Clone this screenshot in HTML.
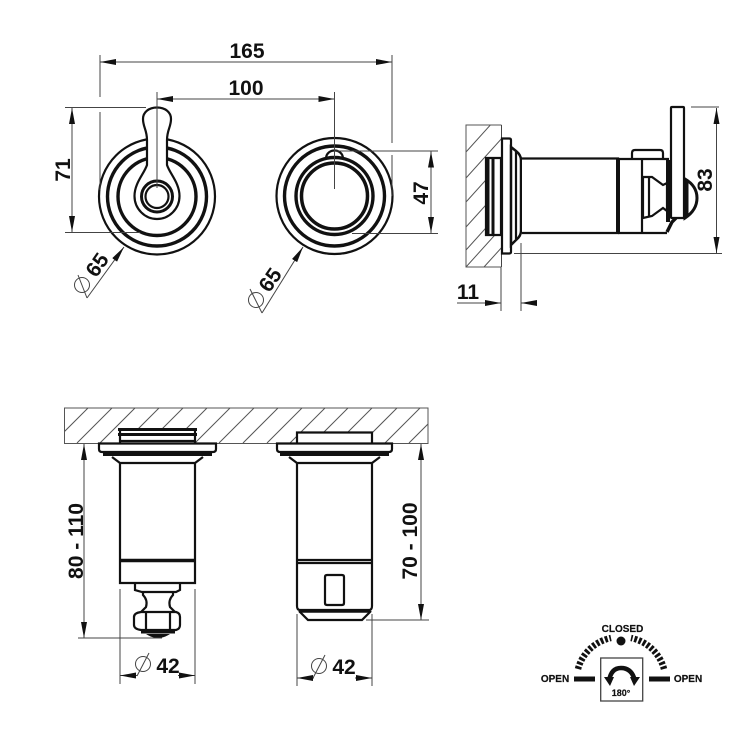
<!DOCTYPE html>
<html><head><meta charset="utf-8"><style>
html,body{margin:0;padding:0;background:#fff}
svg{display:block}
text{font-family:"Liberation Sans",sans-serif;fill:#111}
.t{font-size:21px;text-anchor:middle;font-weight:bold}
.s{font-size:10px;text-anchor:middle;font-weight:bold;stroke:#111;stroke-width:.2}
.d{stroke:#444;stroke-width:1;fill:none}
.h{stroke:#555;stroke-width:1;fill:none}
.o{stroke:#111;stroke-width:2.200;fill:none}
.b{stroke:#111;stroke-width:3.400;fill:none}
.w{stroke:#111;stroke-width:2.200;fill:#fff}
</style></head><body>
<svg width="750" height="750" viewBox="0 0 750 750" xmlns="http://www.w3.org/2000/svg">
<defs>
<marker id="a" viewBox="0 0 16 6" refX="16" refY="3" markerWidth="16" markerHeight="6" markerUnits="userSpaceOnUse" orient="auto-start-reverse"><path d="M0 0L16 3L0 6Z" fill="#111"/></marker>
<clipPath id="c1"><rect x="466" y="125" width="36" height="142"/></clipPath>
<clipPath id="c2"><rect x="64.500" y="408" width="363.500" height="35.500"/></clipPath>
</defs>

<!-- Left front view -->
<circle cx="157" cy="196.500" r="58" class="o"/>
<circle cx="157" cy="196.500" r="49.500" class="b"/>
<circle cx="157" cy="196.500" r="39" class="b"/>
<path d="M157 107.500C165 107.500 171 112 171 119C171 127 167 130 167 140L167 165C170 174 179.500 183 179.500 196C179.500 209 169 219 157 219C145 219 134.500 209 134.500 196C134.500 183 144 174 147 165L147 140C147 130 143 127 143 119C143 112 149 107.500 157 107.500Z" class="w"/>
<circle cx="157" cy="196.500" r="15.500" fill="#fff" stroke="#111" stroke-width="3"/>
<circle cx="157" cy="196.500" r="11.500" fill="#fff" stroke="#111" stroke-width="2.200"/>

<!-- Right front view -->
<circle cx="334.500" cy="196" r="58" class="o"/>
<circle cx="334.500" cy="196" r="50" class="b"/>
<circle cx="334.500" cy="196" r="38.500" class="b"/>
<circle cx="334.500" cy="196" r="33" fill="#fff" stroke="#111" stroke-width="3.500"/>
<path d="M326 158C327 148 342 148 343 158" class="o" fill="#fff"/>

<!-- Top dims -->
<path d="M100 62H392" class="d" marker-start="url(#a)" marker-end="url(#a)"/>
<path d="M100 55V97M100 112V190M392 55V143M392 155V196" class="d"/>
<path d="M157 99H334.500" class="d" marker-start="url(#a)" marker-end="url(#a)"/>
<path d="M157 92V188M334.500 92V189" class="d"/>
<path d="M72 108V232" class="d" marker-start="url(#a)" marker-end="url(#a)"/>
<path d="M65 107.500H146M65 232.500H140" class="d"/>
<path d="M431 151.500V233" class="d" marker-start="url(#a)" marker-end="url(#a)"/>
<path d="M335 151H438M352 233.500H438" class="d"/>
<path d="M87 298L124 247" class="d" marker-end="url(#a)"/>
<path d="M262 313L303 247" class="d" marker-end="url(#a)"/>
<text class="t" x="247" y="58">165</text>
<text class="t" x="246" y="95">100</text>
<text class="t" transform="translate(70 170) rotate(-90)">71</text>
<text class="t" transform="translate(428 193) rotate(-90)">47</text>
<text class="t" transform="translate(103 269) rotate(-55)">65</text>
<text class="t" transform="translate(276 284) rotate(-55)">65</text>
<g class="d"><circle cx="82" cy="285" r="7.500"/><path d="M78 275L87 298"/><circle cx="256" cy="300" r="7.500"/><path d="M250 289L262 313"/></g>

<!-- Side view -->
<path d="M501.500 125H466V267H501.500" class="h"/>
<g clip-path="url(#c1)" class="h"><path d="M466 152L503 111M466 178L503 137M466 202L503 161M466 227L503 186M466 250L503 209M466 267L503 226M484 267L503 246"/></g>
<path d="M501.500 125V267" class="d"/>
<path d="M486 158H501V235H486Z" fill="#fff" stroke="#111" stroke-width="2.200"/>
<path d="M488 157V236M493 157V236" stroke="#111" stroke-width="3" fill="none"/>
<path d="M502 138.500H509Q511 138.500 511 140V252Q511 253.500 509 253.500H502Z" class="w"/>
<path d="M511 147L516 151Q521 155 521 160V231Q521 236 516 240L511 245Z" fill="#fff" stroke="#111" stroke-width="2.500"/>
<path d="M516 152V239" class="o"/>
<path d="M522 158.500H618V233H522" class="w"/>
<path d="M618 158V234" stroke="#111" stroke-width="4"/>
<path d="M618 159H669M618 233H667" class="o"/>
<path d="M632 158V153Q632 150 635 150H660Q663 150 663 153V158" class="o" fill="#fff"/>
<path d="M642 159V233" class="o"/>
<path d="M643 177H652L663 185L667 183V211L663 208L652 216L643 218Z" class="o" fill="#fff"/>
<path d="M649 177V217" class="o"/>
<path d="M668 160V222" stroke="#111" stroke-width="4"/>
<path d="M667 232L672 222L676 218" class="b"/>
<path d="M685 179Q697 186 697 198Q697 210 685 218Z" fill="#fff" stroke="#111" stroke-width="3"/>
<path d="M687 180V217" stroke="#111" stroke-width="3"/>
<path d="M672 107H683Q684 107 684 108V217Q684 218 683 218H672Q671 218 671 217V108Q671 107 672 107Z" class="w"/>
<path d="M691 107H719" class="d"/>
<path d="M716.500 108V253" class="d" marker-start="url(#a)" marker-end="url(#a)"/>
<path d="M514 253.500H722" class="d"/>
<text class="t" transform="translate(712 180) rotate(-90)">83</text>
<path d="M501 267V311M521 243V311" class="d"/>
<path d="M457 303H501" class="d" marker-end="url(#a)"/>
<path d="M537 303H521" class="d" marker-end="url(#a)"/>
<text class="t" x="468" y="299">11</text>

<!-- Bottom wall -->
<path d="M64.500 408H428V443.500H64.500Z" class="h"/>
<g clip-path="url(#c2)" class="h"><path d="M88 408L53 443M112 408L77 443M135 408L100 443M159 408L124 443M183 408L148 443M207 408L172 443M230 408L195 443M254 408L219 443M278 408L243 443M302 408L267 443M325 408L290 443M348 408L313 443M372 408L337 443M397 408L362 443M420 408L385 443M444 408L409 443"/></g>

<!-- Bottom left -->
<path d="M120 429V443H195V429Z" fill="#fff" stroke="none"/>
<path d="M118 429.500H197" stroke="#111" stroke-width="3" fill="none"/>
<path d="M118 434.500H197" stroke="#111" stroke-width="3" fill="none"/>
<path d="M120 430V443M195 430V443M120 441H195" class="o"/>
<path d="M99 443.500H216V449Q216 452 213 452H102Q99 452 99 449Z" class="w"/>
<path d="M103 454H212" stroke="#111" stroke-width="4" fill="none"/>
<path d="M112 457L120 463H195L203 457" class="o"/>
<path d="M120 463V583H195V463" class="o"/>
<path d="M120 560.500H195" stroke="#111" stroke-width="3.500"/>
<path d="M135 584V590L142 592H176L180 590V584" class="o"/>
<path d="M143 592V595Q148 600 146 607L141 612M173 592V595Q168 600 170 607L175 612" class="o"/>
<path d="M141 612H176Q180 613 180 617V625Q180 629 176 630H141Q134 629 134 625V617Q134 613 141 612Z" class="w"/>
<path d="M146 612V630M170 612V630" class="o"/>
<path d="M141 632H175" stroke="#111" stroke-width="3"/>
<path d="M146 634Q158 642 170 634Z" fill="#111"/>

<path d="M84 444V638" class="d" marker-start="url(#a)" marker-end="url(#a)"/>
<path d="M78 638H162" class="d"/>
<text class="t" transform="translate(83 541) rotate(-90)">80 - 110</text>
<path d="M120 589V684M195 589V684" class="d"/>
<path d="M120 675.500H137" class="d" marker-start="url(#a)"/>
<path d="M178 675.500H195" class="d" marker-end="url(#a)"/>
<text class="t" x="168" y="673">42</text>
<g class="d"><circle cx="143" cy="664" r="7.500"/><path d="M137 676L149 653"/></g>

<!-- Bottom right -->
<path d="M297 433V443H372V433Z" fill="#fff" stroke="none"/>
<path d="M297 443V432.500H372V443" class="o"/>
<path d="M277 443.500H392V449Q392 452 389 452H280Q277 452 277 449Z" class="w"/>
<path d="M280 454H389" stroke="#111" stroke-width="4" fill="none"/>
<path d="M289 457L297 463H372L380 457" class="o"/>
<path d="M297 463V606Q297 610 300 610H369Q372 610 372 606V463" class="o"/>
<path d="M297 560H372M297 563H372" class="o"/>
<path d="M327 575H342Q344 575 344 577V603Q344 605 342 605H327Q325 605 325 603V577Q325 575 327 575Z" class="o"/>
<path d="M299 611H370" stroke="#111" stroke-width="3.500"/>
<path d="M299 611L308 620H362L371 611" class="o"/>
<path d="M421 444V620" class="d" marker-start="url(#a)" marker-end="url(#a)"/>
<path d="M366 620H429" class="d"/>
<text class="t" transform="translate(417 541) rotate(-90)">70 - 100</text>
<path d="M297 614V686M372 614V686" class="d"/>
<path d="M297 678H314" class="d" marker-start="url(#a)"/>
<path d="M355 678H372" class="d" marker-end="url(#a)"/>
<text class="t" x="344" y="674">42</text>
<g class="d"><circle cx="319" cy="666" r="7.500"/><path d="M313 678L325 655"/></g>

<!-- Legend -->
<text class="s" x="622.500" y="632">CLOSED</text>
<circle cx="621" cy="641" r="4.500" fill="#111"/>
<path d="M578 669A43 43 0 0 1 611 638" fill="none" stroke="#111" stroke-width="6.500" stroke-dasharray="2.800 1.800"/>
<path d="M664 669A43 43 0 0 0 631 638" fill="none" stroke="#111" stroke-width="6.500" stroke-dasharray="2.800 1.800"/>
<path d="M574 679H595M649 679H670" stroke="#111" stroke-width="5"/>
<text class="s" x="555" y="682">OPEN</text>
<text class="s" x="688" y="682">OPEN</text>
<rect x="600.700" y="658" width="42" height="43" fill="#fff" stroke="#444" stroke-width="1.300"/>
<path d="M609 681Q611 668 621 668Q632 668 635 681" fill="none" stroke="#111" stroke-width="4.500"/>
<path d="M604 677L614 677L610 686ZM630 677L640 677L634 686Z" fill="#111"/>
<text class="s" x="621" y="696" style="font-size:9px">180°</text>
</svg>
</body></html>
